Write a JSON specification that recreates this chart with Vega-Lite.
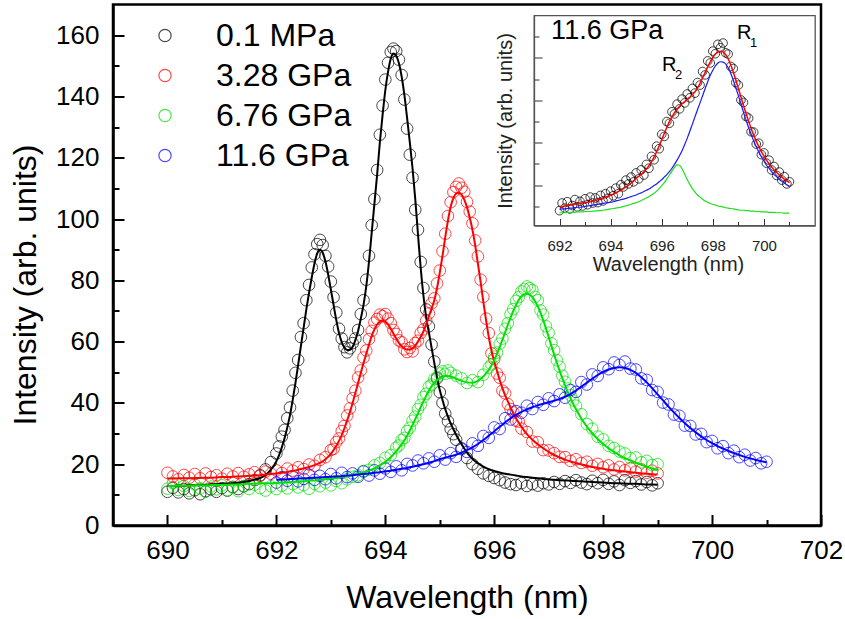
{
"$schema": "https://vega.github.io/schema/vega-lite/v6.json",
"background": "white",
"padding": {"left": 8, "top": 1.5, "right": 0, "bottom": 0},
"columns": 2,
"align": "none",
"spacing": -350,
"datasets": {
"d": [
{"s":"a","w":690,"y":11.0,"f":12.9},{"s":"a","w":690.1,"y":12.3,"f":12.9},{"s":"a","w":690.2,"y":10.8,"f":13.0},{"s":"a","w":690.3,"y":11.9,"f":13.0},{"s":"a","w":690.4,"y":10.5,"f":13.1},{"s":"a","w":690.5,"y":11.5,"f":13.1},{"s":"a","w":690.6,"y":10.2,"f":13.2},{"s":"a","w":690.7,"y":11.2,"f":13.3},{"s":"a","w":690.8,"y":11.8,"f":13.4},{"s":"a","w":690.9,"y":11.0,"f":13.5},
{"s":"a","w":691,"y":12.2,"f":13.6},{"s":"a","w":691.1,"y":11.4,"f":13.7},{"s":"a","w":691.2,"y":12.6,"f":13.8},{"s":"a","w":691.3,"y":11.9,"f":14.0},{"s":"a","w":691.4,"y":12.8,"f":14.2},{"s":"a","w":691.5,"y":13.5,"f":14.5},{"s":"a","w":691.6,"y":14.8,"f":14.9},{"s":"a","w":691.7,"y":16.4,"f":15.5},{"s":"a","w":691.8,"y":18.3,"f":16.5},{"s":"a","w":691.9,"y":20.7,"f":18.2},
{"s":"a","w":692,"y":23.5,"f":21.0},{"s":"a","w":692.05,"y":25.8,"f":23.0},{"s":"a","w":692.1,"y":29.0,"f":25.5},{"s":"a","w":692.15,"y":31.2,"f":28.5},{"s":"a","w":692.2,"y":35.0,"f":32.0},{"s":"a","w":692.25,"y":38.5,"f":36.0},{"s":"a","w":692.3,"y":44.0,"f":41.0},{"s":"a","w":692.35,"y":49.8,"f":46.5},{"s":"a","w":692.4,"y":54.0,"f":52.5},{"s":"a","w":692.45,"y":61.5,"f":58.5},
{"s":"a","w":692.5,"y":66.0,"f":64.5},{"s":"a","w":692.55,"y":73.5,"f":70.5},{"s":"a","w":692.6,"y":78.5,"f":76.0},{"s":"a","w":692.65,"y":84.2,"f":81.0},{"s":"a","w":692.7,"y":88.5,"f":85.5},{"s":"a","w":692.75,"y":91.8,"f":88.8},{"s":"a","w":692.8,"y":93.2,"f":90.0},{"s":"a","w":692.85,"y":91.5,"f":89.0},{"s":"a","w":692.9,"y":88.0,"f":86.2},{"s":"a","w":692.95,"y":84.5,"f":82.0},
{"s":"a","w":693,"y":79.6,"f":77.0},{"s":"a","w":693.05,"y":74.5,"f":72.0},{"s":"a","w":693.1,"y":69.5,"f":67.0},{"s":"a","w":693.15,"y":64.2,"f":62.8},{"s":"a","w":693.2,"y":61.0,"f":59.8},{"s":"a","w":693.25,"y":58.2,"f":58.0},{"s":"a","w":693.3,"y":56.5,"f":57.3},{"s":"a","w":693.35,"y":57.8,"f":57.3},{"s":"a","w":693.4,"y":59.5,"f":58.3},{"s":"a","w":693.45,"y":61.0,"f":60.5},
{"s":"a","w":693.5,"y":63.8,"f":63.5},{"s":"a","w":693.55,"y":69.0,"f":67.5},{"s":"a","w":693.6,"y":73.5,"f":72.0},{"s":"a","w":693.65,"y":80.2,"f":78.0},{"s":"a","w":693.7,"y":88.0,"f":86.0},{"s":"a","w":693.75,"y":98.0,"f":95.5},{"s":"a","w":693.8,"y":106.5,"f":105.0},{"s":"a","w":693.85,"y":116.0,"f":114.5},{"s":"a","w":693.9,"y":127.5,"f":125.0},{"s":"a","w":693.95,"y":137.0,"f":134.0},
{"s":"a","w":694,"y":145.5,"f":142.0},{"s":"a","w":694.05,"y":151.0,"f":148.0},{"s":"a","w":694.1,"y":154.5,"f":152.3},{"s":"a","w":694.15,"y":155.6,"f":154.0},{"s":"a","w":694.2,"y":154.8,"f":153.3},{"s":"a","w":694.25,"y":152.0,"f":150.8},{"s":"a","w":694.3,"y":147.0,"f":146.5},{"s":"a","w":694.35,"y":139.0,"f":140.5},{"s":"a","w":694.4,"y":129.5,"f":133.0},{"s":"a","w":694.45,"y":121.0,"f":125.0},
{"s":"a","w":694.5,"y":113.5,"f":116.5},{"s":"a","w":694.55,"y":103.0,"f":106.5},{"s":"a","w":694.6,"y":96.5,"f":95.0},{"s":"a","w":694.65,"y":86.0,"f":84.0},{"s":"a","w":694.7,"y":77.5,"f":75.0},{"s":"a","w":694.75,"y":70.5,"f":68.0},{"s":"a","w":694.8,"y":65.0,"f":63.0},{"s":"a","w":694.85,"y":59.0,"f":58.0},{"s":"a","w":694.9,"y":53.5,"f":53.0},{"s":"a","w":694.95,"y":48.0,"f":48.3},
{"s":"a","w":695,"y":43.5,"f":44.2},{"s":"a","w":695.05,"y":40.0,"f":41.0},{"s":"a","w":695.1,"y":36.5,"f":38.0},{"s":"a","w":695.15,"y":34.0,"f":35.5},{"s":"a","w":695.2,"y":31.5,"f":33.3},{"s":"a","w":695.25,"y":29.8,"f":31.4},{"s":"a","w":695.3,"y":28.0,"f":29.6},{"s":"a","w":695.4,"y":25.2,"f":26.5},{"s":"a","w":695.5,"y":22.0,"f":23.8},{"s":"a","w":695.6,"y":20.0,"f":21.8},
{"s":"a","w":695.7,"y":18.5,"f":20.3},{"s":"a","w":695.8,"y":17.0,"f":19.2},{"s":"a","w":695.9,"y":16.2,"f":18.4},{"s":"a","w":696,"y":15.5,"f":17.8},{"s":"a","w":696.1,"y":14.8,"f":17.3},{"s":"a","w":696.2,"y":14.0,"f":16.9},{"s":"a","w":696.3,"y":13.5,"f":16.6},{"s":"a","w":696.4,"y":13.2,"f":16.3},{"s":"a","w":696.5,"y":13.8,"f":16.0},{"s":"a","w":696.6,"y":12.9,"f":15.8},
{"s":"a","w":696.7,"y":13.5,"f":15.6},{"s":"a","w":696.8,"y":13.0,"f":15.4},{"s":"a","w":696.9,"y":13.8,"f":15.2},{"s":"a","w":697,"y":13.4,"f":15.0},{"s":"a","w":697.1,"y":14.2,"f":14.9},{"s":"a","w":697.2,"y":13.6,"f":14.8},{"s":"a","w":697.3,"y":14.5,"f":14.7},{"s":"a","w":697.4,"y":13.9,"f":14.6},{"s":"a","w":697.5,"y":14.8,"f":14.5},{"s":"a","w":697.6,"y":14.0,"f":14.4},
{"s":"a","w":697.7,"y":13.5,"f":14.3},{"s":"a","w":697.8,"y":14.6,"f":14.2},{"s":"a","w":697.9,"y":13.8,"f":14.1},{"s":"a","w":698,"y":14.9,"f":14.0},{"s":"a","w":698.1,"y":13.6,"f":13.9},{"s":"a","w":698.2,"y":14.4,"f":13.8},{"s":"a","w":698.3,"y":13.2,"f":13.8},{"s":"a","w":698.4,"y":14.8,"f":13.7},{"s":"a","w":698.5,"y":13.9,"f":13.6},{"s":"a","w":698.6,"y":14.5,"f":13.6},
{"s":"a","w":698.7,"y":13.4,"f":13.5},{"s":"a","w":698.8,"y":14.2,"f":13.4},{"s":"a","w":698.9,"y":13.1,"f":13.4},{"s":"a","w":699,"y":13.8,"f":13.3},

{"s":"b","w":690,"y":17.2,"f":15.3},{"s":"b","w":690.1,"y":16.0,"f":15.3},{"s":"b","w":690.2,"y":15.1,"f":15.4},{"s":"b","w":690.3,"y":16.5,"f":15.4},{"s":"b","w":690.4,"y":15.6,"f":15.4},{"s":"b","w":690.5,"y":16.8,"f":15.5},{"s":"b","w":690.6,"y":15.4,"f":15.5},{"s":"b","w":690.7,"y":17.0,"f":15.6},{"s":"b","w":690.8,"y":15.8,"f":15.6},{"s":"b","w":690.9,"y":16.4,"f":15.7},
{"s":"b","w":691,"y":15.3,"f":15.8},{"s":"b","w":691.1,"y":16.9,"f":15.8},{"s":"b","w":691.2,"y":16.0,"f":15.9},{"s":"b","w":691.3,"y":17.1,"f":16.0},{"s":"b","w":691.4,"y":15.9,"f":16.1},{"s":"b","w":691.5,"y":16.7,"f":16.2},{"s":"b","w":691.6,"y":17.4,"f":16.3},{"s":"b","w":691.7,"y":16.2,"f":16.4},{"s":"b","w":691.8,"y":17.6,"f":16.6},{"s":"b","w":691.9,"y":16.9,"f":16.8},
{"s":"b","w":692,"y":18.0,"f":17.0},{"s":"b","w":692.1,"y":17.1,"f":17.2},{"s":"b","w":692.2,"y":18.6,"f":17.5},{"s":"b","w":692.3,"y":17.9,"f":17.8},{"s":"b","w":692.4,"y":19.0,"f":18.2},{"s":"b","w":692.5,"y":18.4,"f":18.6},{"s":"b","w":692.6,"y":19.9,"f":19.1},{"s":"b","w":692.7,"y":19.5,"f":19.7},{"s":"b","w":692.8,"y":21.4,"f":20.4},{"s":"b","w":692.9,"y":22.3,"f":21.6},
{"s":"b","w":693,"y":24.6,"f":23.4},{"s":"b","w":693.05,"y":25.0,"f":24.6},{"s":"b","w":693.1,"y":27.2,"f":26.0},{"s":"b","w":693.15,"y":28.4,"f":27.6},{"s":"b","w":693.2,"y":30.8,"f":29.5},{"s":"b","w":693.25,"y":32.5,"f":31.8},{"s":"b","w":693.3,"y":35.9,"f":34.3},{"s":"b","w":693.35,"y":38.2,"f":37.0},{"s":"b","w":693.4,"y":41.5,"f":40.0},{"s":"b","w":693.45,"y":44.0,"f":43.2},
{"s":"b","w":693.5,"y":48.3,"f":46.5},{"s":"b","w":693.55,"y":50.6,"f":49.8},{"s":"b","w":693.6,"y":54.8,"f":53.0},{"s":"b","w":693.65,"y":57.1,"f":56.0},{"s":"b","w":693.7,"y":60.8,"f":59.0},{"s":"b","w":693.75,"y":63.5,"f":61.8},{"s":"b","w":693.8,"y":66.2,"f":64.0},{"s":"b","w":693.85,"y":67.4,"f":65.6},{"s":"b","w":693.9,"y":68.8,"f":66.5},{"s":"b","w":693.95,"y":68.3,"f":66.8},
{"s":"b","w":694,"y":69.0,"f":66.5},{"s":"b","w":694.05,"y":67.5,"f":65.6},{"s":"b","w":694.1,"y":66.0,"f":64.2},{"s":"b","w":694.15,"y":63.8,"f":62.6},{"s":"b","w":694.2,"y":62.5,"f":61.0},{"s":"b","w":694.25,"y":60.4,"f":59.6},{"s":"b","w":694.3,"y":59.8,"f":58.5},{"s":"b","w":694.35,"y":57.5,"f":57.8},{"s":"b","w":694.4,"y":56.6,"f":57.4},{"s":"b","w":694.45,"y":57.9,"f":57.4},
{"s":"b","w":694.5,"y":56.8,"f":57.8},{"s":"b","w":694.55,"y":59.5,"f":58.7},{"s":"b","w":694.6,"y":60.3,"f":60.0},{"s":"b","w":694.65,"y":62.8,"f":61.6},{"s":"b","w":694.7,"y":64.0,"f":63.3},{"s":"b","w":694.75,"y":66.9,"f":65.6},{"s":"b","w":694.8,"y":69.2,"f":68.3},{"s":"b","w":694.85,"y":72.5,"f":70.8},{"s":"b","w":694.9,"y":74.1,"f":73.5},{"s":"b","w":694.95,"y":79.0,"f":77.5},
{"s":"b","w":695,"y":83.2,"f":82.5},{"s":"b","w":695.05,"y":89.5,"f":88.0},{"s":"b","w":695.1,"y":95.2,"f":94.0},{"s":"b","w":695.15,"y":101.0,"f":99.5},{"s":"b","w":695.2,"y":105.5,"f":104.0},{"s":"b","w":695.25,"y":108.8,"f":106.8},{"s":"b","w":695.3,"y":110.5,"f":108.3},{"s":"b","w":695.35,"y":111.6,"f":108.6},{"s":"b","w":695.4,"y":110.2,"f":108.0},{"s":"b","w":695.45,"y":108.9,"f":106.3},
{"s":"b","w":695.5,"y":105.6,"f":103.8},{"s":"b","w":695.55,"y":102.4,"f":100.5},{"s":"b","w":695.6,"y":98.6,"f":96.5},{"s":"b","w":695.65,"y":93.0,"f":91.5},{"s":"b","w":695.7,"y":87.8,"f":85.5},{"s":"b","w":695.75,"y":80.2,"f":79.5},{"s":"b","w":695.8,"y":74.6,"f":73.0},{"s":"b","w":695.85,"y":67.5,"f":67.0},{"s":"b","w":695.9,"y":62.8,"f":61.5},{"s":"b","w":695.95,"y":56.2,"f":57.0},
{"s":"b","w":696,"y":54.3,"f":53.5},{"s":"b","w":696.05,"y":49.6,"f":50.5},{"s":"b","w":696.1,"y":48.2,"f":47.5},{"s":"b","w":696.15,"y":44.0,"f":44.8},{"s":"b","w":696.2,"y":43.1,"f":42.5},{"s":"b","w":696.25,"y":39.6,"f":40.5},{"s":"b","w":696.3,"y":38.0,"f":38.5},{"s":"b","w":696.35,"y":36.9,"f":36.7},{"s":"b","w":696.4,"y":34.2,"f":35.0},{"s":"b","w":696.45,"y":33.9,"f":33.5},
{"s":"b","w":696.5,"y":31.6,"f":32.2},{"s":"b","w":696.6,"y":30.5,"f":29.8},{"s":"b","w":696.7,"y":27.4,"f":28.0},{"s":"b","w":696.8,"y":27.2,"f":26.5},{"s":"b","w":696.9,"y":24.6,"f":25.2},{"s":"b","w":697,"y":24.5,"f":24.0},{"s":"b","w":697.1,"y":23.6,"f":23.0},{"s":"b","w":697.2,"y":22.4,"f":22.2},{"s":"b","w":697.3,"y":22.3,"f":21.5},{"s":"b","w":697.4,"y":21.1,"f":20.9},
{"s":"b","w":697.5,"y":21.6,"f":20.4},{"s":"b","w":697.6,"y":20.4,"f":19.9},{"s":"b","w":697.7,"y":20.8,"f":19.5},{"s":"b","w":697.8,"y":19.5,"f":19.1},{"s":"b","w":697.9,"y":20.1,"f":18.8},{"s":"b","w":698,"y":19.0,"f":18.5},{"s":"b","w":698.1,"y":19.6,"f":18.2},{"s":"b","w":698.2,"y":18.3,"f":18.0},{"s":"b","w":698.3,"y":19.1,"f":17.8},{"s":"b","w":698.4,"y":18.0,"f":17.6},
{"s":"b","w":698.5,"y":18.7,"f":17.4},{"s":"b","w":698.6,"y":17.6,"f":17.2},{"s":"b","w":698.7,"y":18.3,"f":17.0},{"s":"b","w":698.8,"y":17.2,"f":16.9},{"s":"b","w":698.9,"y":17.9,"f":16.7},{"s":"b","w":699,"y":17.0,"f":16.6},

{"s":"c","w":690,"y":12.0,"f":12.9},{"s":"c","w":690.1,"y":13.8,"f":12.9},{"s":"c","w":690.2,"y":11.6,"f":13.0},{"s":"c","w":690.3,"y":12.9,"f":13.0},{"s":"c","w":690.4,"y":11.3,"f":13.0},{"s":"c","w":690.5,"y":13.4,"f":13.1},{"s":"c","w":690.6,"y":12.1,"f":13.1},{"s":"c","w":690.7,"y":11.0,"f":13.1},{"s":"c","w":690.8,"y":12.7,"f":13.2},{"s":"c","w":690.9,"y":11.8,"f":13.2},
{"s":"c","w":691,"y":13.1,"f":13.3},{"s":"c","w":691.1,"y":11.5,"f":13.3},{"s":"c","w":691.2,"y":12.4,"f":13.4},{"s":"c","w":691.3,"y":11.2,"f":13.4},{"s":"c","w":691.4,"y":12.9,"f":13.5},{"s":"c","w":691.5,"y":11.9,"f":13.6},{"s":"c","w":691.6,"y":13.3,"f":13.7},{"s":"c","w":691.7,"y":12.2,"f":13.7},{"s":"c","w":691.8,"y":11.4,"f":13.8},{"s":"c","w":691.9,"y":12.8,"f":13.8},
{"s":"c","w":692,"y":11.9,"f":13.9},{"s":"c","w":692.1,"y":13.0,"f":14.0},{"s":"c","w":692.2,"y":12.1,"f":14.1},{"s":"c","w":692.3,"y":13.5,"f":14.2},{"s":"c","w":692.4,"y":12.4,"f":14.3},{"s":"c","w":692.5,"y":13.2,"f":14.4},{"s":"c","w":692.6,"y":12.0,"f":14.6},{"s":"c","w":692.7,"y":13.6,"f":14.7},{"s":"c","w":692.8,"y":12.8,"f":14.9},{"s":"c","w":692.9,"y":14.0,"f":15.1},
{"s":"c","w":693,"y":13.1,"f":15.3},{"s":"c","w":693.1,"y":14.5,"f":15.5},{"s":"c","w":693.2,"y":13.8,"f":15.8},{"s":"c","w":693.3,"y":15.1,"f":16.1},{"s":"c","w":693.4,"y":15.9,"f":16.5},{"s":"c","w":693.5,"y":16.4,"f":16.9},{"s":"c","w":693.6,"y":17.8,"f":17.3},{"s":"c","w":693.7,"y":18.2,"f":17.9},{"s":"c","w":693.8,"y":19.6,"f":18.6},{"s":"c","w":693.9,"y":20.4,"f":19.6},
{"s":"c","w":694,"y":22.1,"f":20.8},{"s":"c","w":694.1,"y":23.0,"f":22.3},{"s":"c","w":694.2,"y":25.4,"f":24.2},{"s":"c","w":694.25,"y":26.1,"f":25.3},{"s":"c","w":694.3,"y":27.9,"f":26.5},{"s":"c","w":694.35,"y":28.6,"f":27.8},{"s":"c","w":694.4,"y":30.8,"f":29.3},{"s":"c","w":694.45,"y":31.9,"f":31.0},{"s":"c","w":694.5,"y":34.2,"f":32.8},{"s":"c","w":694.55,"y":35.5,"f":34.7},
{"s":"c","w":694.6,"y":38.0,"f":36.6},{"s":"c","w":694.65,"y":39.4,"f":38.6},{"s":"c","w":694.7,"y":41.9,"f":40.5},{"s":"c","w":694.75,"y":43.0,"f":42.3},{"s":"c","w":694.8,"y":45.3,"f":44.0},{"s":"c","w":694.85,"y":46.0,"f":45.4},{"s":"c","w":694.9,"y":47.8,"f":46.6},{"s":"c","w":694.95,"y":48.4,"f":47.5},{"s":"c","w":695,"y":49.6,"f":48.2},{"s":"c","w":695.05,"y":50.3,"f":48.6},
{"s":"c","w":695.1,"y":49.5,"f":48.8},{"s":"c","w":695.15,"y":50.6,"f":48.8},{"s":"c","w":695.2,"y":49.8,"f":48.6},{"s":"c","w":695.3,"y":48.9,"f":47.9},{"s":"c","w":695.4,"y":48.0,"f":47.2},{"s":"c","w":695.5,"y":46.5,"f":46.7},{"s":"c","w":695.6,"y":47.4,"f":46.6},{"s":"c","w":695.7,"y":46.8,"f":47.2},{"s":"c","w":695.8,"y":49.2,"f":48.6},{"s":"c","w":695.9,"y":51.5,"f":50.8},
{"s":"c","w":695.95,"y":52.6,"f":52.3},{"s":"c","w":696,"y":55.1,"f":54.0},{"s":"c","w":696.05,"y":56.4,"f":56.0},{"s":"c","w":696.1,"y":59.3,"f":58.2},{"s":"c","w":696.15,"y":61.0,"f":60.6},{"s":"c","w":696.2,"y":64.2,"f":63.0},{"s":"c","w":696.25,"y":66.0,"f":65.5},{"s":"c","w":696.3,"y":69.0,"f":67.8},{"s":"c","w":696.35,"y":70.6,"f":70.0},{"s":"c","w":696.4,"y":73.3,"f":72.0},
{"s":"c","w":696.45,"y":74.5,"f":73.6},{"s":"c","w":696.5,"y":76.4,"f":74.8},{"s":"c","w":696.55,"y":77.1,"f":75.4},{"s":"c","w":696.6,"y":78.0,"f":75.6},{"s":"c","w":696.65,"y":77.4,"f":75.3},{"s":"c","w":696.7,"y":76.8,"f":74.5},{"s":"c","w":696.75,"y":74.6,"f":73.2},{"s":"c","w":696.8,"y":73.5,"f":71.5},{"s":"c","w":696.85,"y":70.2,"f":69.4},{"s":"c","w":696.9,"y":68.8,"f":67.0},
{"s":"c","w":696.95,"y":65.0,"f":64.3},{"s":"c","w":697,"y":62.9,"f":61.5},{"s":"c","w":697.05,"y":59.4,"f":58.6},{"s":"c","w":697.1,"y":57.2,"f":55.8},{"s":"c","w":697.15,"y":53.9,"f":53.1},{"s":"c","w":697.2,"y":51.8,"f":50.5},{"s":"c","w":697.25,"y":48.9,"f":48.1},{"s":"c","w":697.3,"y":46.9,"f":45.8},{"s":"c","w":697.35,"y":44.7,"f":43.6},{"s":"c","w":697.4,"y":42.5,"f":41.6},
{"s":"c","w":697.45,"y":40.8,"f":39.7},{"s":"c","w":697.5,"y":39.1,"f":38.0},{"s":"c","w":697.6,"y":36.3,"f":34.9},{"s":"c","w":697.7,"y":33.1,"f":32.3},{"s":"c","w":697.8,"y":31.6,"f":30.1},{"s":"c","w":697.9,"y":29.0,"f":28.2},{"s":"c","w":698,"y":28.1,"f":26.6},{"s":"c","w":698.1,"y":26.0,"f":25.2},{"s":"c","w":698.2,"y":25.3,"f":24.0},{"s":"c","w":698.3,"y":24.1,"f":22.9},
{"s":"c","w":698.4,"y":23.5,"f":22.0},{"s":"c","w":698.5,"y":22.0,"f":21.2},{"s":"c","w":698.6,"y":22.2,"f":20.5},{"s":"c","w":698.7,"y":20.6,"f":19.8},{"s":"c","w":698.8,"y":21.1,"f":19.2},{"s":"c","w":698.9,"y":19.7,"f":18.6},{"s":"c","w":699,"y":20.0,"f":18.1},

{"s":"d","w":692,"y":14.0,"f":14.9,"r":14.3,"g":13.5},{"s":"d","w":692.1,"y":15.8,"f":15.0,"r":14.4,"g":13.5},{"s":"d","w":692.2,"y":14.6,"f":15.1,"r":14.4,"g":13.5},{"s":"d","w":692.3,"y":16.1,"f":15.2,"r":14.5,"g":13.6},{"s":"d","w":692.4,"y":14.4,"f":15.3,"r":14.6,"g":13.6},{"s":"d","w":692.5,"y":15.2,"f":15.4,"r":14.6,"g":13.6},{"s":"d","w":692.6,"y":16.6,"f":15.5,"r":14.7,"g":13.6},{"s":"d","w":692.7,"y":14.9,"f":15.6,"r":14.8,"g":13.7},{"s":"d","w":692.8,"y":16.2,"f":15.7,"r":14.8,"g":13.7},{"s":"d","w":692.9,"y":15.1,"f":15.8,"r":14.9,"g":13.7},
{"s":"d","w":693,"y":16.8,"f":15.9,"r":15.0,"g":13.8},{"s":"d","w":693.1,"y":15.4,"f":16.0,"r":15.1,"g":13.8},{"s":"d","w":693.2,"y":17.2,"f":16.1,"r":15.2,"g":13.8},{"s":"d","w":693.3,"y":15.8,"f":16.3,"r":15.3,"g":13.9},{"s":"d","w":693.4,"y":17.0,"f":16.4,"r":15.4,"g":13.9},{"s":"d","w":693.5,"y":15.9,"f":16.6,"r":15.5,"g":14.0},{"s":"d","w":693.6,"y":17.6,"f":16.8,"r":15.6,"g":14.0},{"s":"d","w":693.7,"y":16.3,"f":17.0,"r":15.7,"g":14.1},{"s":"d","w":693.8,"y":18.0,"f":17.2,"r":15.8,"g":14.2},{"s":"d","w":693.9,"y":16.9,"f":17.4,"r":15.9,"g":14.3},
{"s":"d","w":694,"y":18.6,"f":17.7,"r":16.0,"g":14.4},{"s":"d","w":694.1,"y":17.5,"f":17.9,"r":16.1,"g":14.5},{"s":"d","w":694.2,"y":19.3,"f":18.2,"r":16.3,"g":14.6},{"s":"d","w":694.3,"y":18.0,"f":18.5,"r":16.4,"g":14.7},{"s":"d","w":694.4,"y":20.1,"f":18.8,"r":16.6,"g":14.8},{"s":"d","w":694.5,"y":19.6,"f":19.2,"r":16.7,"g":15.0},{"s":"d","w":694.6,"y":21.2,"f":19.6,"r":16.9,"g":15.1},{"s":"d","w":694.7,"y":20.3,"f":20.0,"r":17.1,"g":15.3},{"s":"d","w":694.8,"y":21.9,"f":20.5,"r":17.3,"g":15.5},{"s":"d","w":694.9,"y":20.8,"f":21.0,"r":17.5,"g":15.7},
{"s":"d","w":695,"y":22.9,"f":21.6,"r":17.7,"g":15.9},{"s":"d","w":695.1,"y":21.5,"f":22.1,"r":18.0,"g":16.1},{"s":"d","w":695.2,"y":23.6,"f":22.6,"r":18.2,"g":16.4},{"s":"d","w":695.3,"y":22.4,"f":23.1,"r":18.5,"g":16.7},{"s":"d","w":695.4,"y":24.9,"f":23.8,"r":18.8,"g":17.0},{"s":"d","w":695.5,"y":24.0,"f":24.6,"r":19.1,"g":17.3},{"s":"d","w":695.6,"y":26.8,"f":25.5,"r":19.5,"g":17.7},{"s":"d","w":695.7,"y":26.0,"f":26.6,"r":19.9,"g":18.1},{"s":"d","w":695.8,"y":29.2,"f":27.9,"r":20.3,"g":18.6},{"s":"d","w":695.9,"y":28.6,"f":29.3,"r":20.8,"g":19.2},
{"s":"d","w":696,"y":32.0,"f":30.7,"r":21.3,"g":19.9},{"s":"d","w":696.1,"y":31.5,"f":32.2,"r":21.9,"g":20.6},{"s":"d","w":696.2,"y":35.0,"f":33.6,"r":22.5,"g":21.5},{"s":"d","w":696.3,"y":34.6,"f":35.0,"r":23.2,"g":22.4},{"s":"d","w":696.4,"y":37.3,"f":36.1,"r":24.0,"g":23.3},{"s":"d","w":696.5,"y":36.8,"f":37.1,"r":24.9,"g":24.2},{"s":"d","w":696.6,"y":39.1,"f":37.9,"r":25.9,"g":24.8},{"s":"d","w":696.7,"y":38.0,"f":38.6,"r":27.0,"g":24.7},{"s":"d","w":696.8,"y":40.3,"f":39.2,"r":28.2,"g":23.8},{"s":"d","w":696.9,"y":39.4,"f":39.7,"r":29.6,"g":22.6},
{"s":"d","w":697,"y":41.5,"f":40.2,"r":31.1,"g":21.3},{"s":"d","w":697.1,"y":40.6,"f":40.7,"r":32.7,"g":20.2},{"s":"d","w":697.2,"y":42.8,"f":41.3,"r":34.4,"g":19.2},{"s":"d","w":697.3,"y":41.7,"f":42.0,"r":36.1,"g":18.4},{"s":"d","w":697.4,"y":44.2,"f":42.9,"r":37.8,"g":17.7},{"s":"d","w":697.5,"y":43.6,"f":44.0,"r":39.4,"g":17.2},{"s":"d","w":697.6,"y":46.8,"f":45.3,"r":41.1,"g":16.7},{"s":"d","w":697.7,"y":46.0,"f":46.6,"r":42.8,"g":16.3},{"s":"d","w":697.8,"y":49.3,"f":47.9,"r":44.4,"g":16.0},{"s":"d","w":697.9,"y":48.8,"f":49.1,"r":45.9,"g":15.7},
{"s":"d","w":698,"y":51.6,"f":50.1,"r":47.1,"g":15.5},{"s":"d","w":698.1,"y":51.0,"f":50.9,"r":48.1,"g":15.3},{"s":"d","w":698.2,"y":53.2,"f":51.4,"r":48.8,"g":15.1},{"s":"d","w":698.3,"y":52.4,"f":51.6,"r":49.1,"g":15.0},{"s":"d","w":698.4,"y":53.5,"f":51.4,"r":49.0,"g":14.9},{"s":"d","w":698.5,"y":51.2,"f":50.8,"r":48.6,"g":14.7},{"s":"d","w":698.6,"y":50.9,"f":49.8,"r":47.7,"g":14.6},{"s":"d","w":698.7,"y":48.0,"f":48.4,"r":46.4,"g":14.5},{"s":"d","w":698.8,"y":47.5,"f":46.7,"r":44.8,"g":14.4},{"s":"d","w":698.9,"y":44.2,"f":44.8,"r":43.0,"g":14.3},
{"s":"d","w":699,"y":43.6,"f":42.8,"r":41.1,"g":14.2},{"s":"d","w":699.1,"y":40.1,"f":40.8,"r":39.2,"g":14.1},{"s":"d","w":699.2,"y":39.5,"f":38.8,"r":37.2,"g":14.1},{"s":"d","w":699.3,"y":36.2,"f":36.9,"r":35.4,"g":14.0},{"s":"d","w":699.4,"y":35.8,"f":35.1,"r":33.6,"g":14.0},{"s":"d","w":699.5,"y":32.6,"f":33.4,"r":32.0,"g":13.9},{"s":"d","w":699.6,"y":32.5,"f":31.8,"r":30.4,"g":13.9},{"s":"d","w":699.7,"y":29.7,"f":30.4,"r":29.1,"g":13.8},{"s":"d","w":699.8,"y":29.9,"f":29.1,"r":27.8,"g":13.8},{"s":"d","w":699.9,"y":27.2,"f":27.9,"r":26.7,"g":13.7},
{"s":"d","w":700,"y":27.6,"f":26.9,"r":25.7,"g":13.7},{"s":"d","w":700.1,"y":25.2,"f":25.9,"r":24.7,"g":13.7},{"s":"d","w":700.2,"y":25.9,"f":25.1,"r":24.0,"g":13.6},{"s":"d","w":700.3,"y":23.6,"f":24.3,"r":23.2,"g":13.6},{"s":"d","w":700.4,"y":24.4,"f":23.6,"r":22.5,"g":13.6},{"s":"d","w":700.5,"y":22.3,"f":23.0,"r":22.0,"g":13.5},{"s":"d","w":700.6,"y":23.1,"f":22.4,"r":21.4,"g":13.5},{"s":"d","w":700.7,"y":21.2,"f":21.9,"r":20.9,"g":13.5},{"s":"d","w":700.8,"y":22.0,"f":21.4,"r":20.5,"g":13.4},{"s":"d","w":700.9,"y":20.3,"f":21.0,"r":20.1,"g":13.4},
{"s":"d","w":701,"y":20.8,"f":20.6,"r":19.7,"g":13.4}
],
"big": [{"w": 691.67, "I": 56.4, "t": "11.6 GPa"}],
"rl": [{"w": 696.01, "I": 48.4, "t": "R", "u": "2"}, {"w": 698.95, "I": 55.9, "t": "R", "u": "1"}],
"none": [{"k": 0}]
},
"concat": [
{
"width": 708,
"height": 521,
"view": {"stroke": "#000", "strokeWidth": 2.5},
"data": {"name": "d"},
"layer": [
{
"mark": {"type": "point", "shape": "circle", "filled": false, "size": 135, "strokeWidth": 1, "opacity": 0.72},
"encoding": {
"x": {"field": "w", "type": "quantitative", "scale": {"domain": [689, 702], "nice": false, "zero": false},
"axis": {"values": [690, 692, 694, 696, 698, 700, 702], "orient": "bottom", "title": "Wavelength (nm)", "format": "d", "tickSize": -11, "tickWidth": 2, "domainWidth": 2.5, "labelFontSize": 26, "labelPadding": 23, "labelFlush": false, "labelOverlap": false, "titleFontSize": 32, "titlePadding": 19}},
"y": {"field": "y", "type": "quantitative", "scale": {"domain": [0, 170], "nice": false, "zero": false},
"axis": {"values": [0, 20, 40, 60, 80, 100, 120, 140, 160], "orient": "left", "title": "Intensity (arb. units)", "format": "d", "tickSize": -11, "tickWidth": 2, "domainWidth": 2.5, "labelFontSize": 26, "labelPadding": 25, "labelOverlap": false, "titleFontSize": 32, "titlePadding": 13, "titleY": 280}},
"color": {"field": "s", "type": "nominal",
"scale": {"domain": ["a", "b", "c", "d"], "range": ["#000000", "#ff0000", "#00e000", "#0000ff"]},
"legend": {"orient": "none", "legendX": 36, "legendY": 15, "title": null, "padding": 0, "labelFontSize": 32, "labelColor": "#000", "labelOffset": 35, "rowPadding": 8, "symbolSize": 150, "symbolStrokeWidth": 1.2, "symbolType": "circle", "symbolFillColor": "transparent",
"labelExpr": "datum.label == 'a' ? '0.1 MPa' : datum.label == 'b' ? '3.28 GPa' : datum.label == 'c' ? '6.76 GPa' : '11.6 GPa'"}}
}
},
{
"mark": {"type": "line", "strokeWidth": 2, "interpolate": "monotone"},
"encoding": {
"x": {"field": "w", "type": "quantitative", "axis": {"values": [691, 693, 695, 697, 699, 701], "orient": "bottom", "labels": false, "title": null, "domain": false, "tickSize": -6, "tickWidth": 2}},
"y": {"field": "f", "type": "quantitative", "axis": {"values": [10, 30, 50, 70, 90, 110, 130, 150], "orient": "left", "labels": false, "title": null, "domain": false, "tickSize": -6, "tickWidth": 2}},
"color": {"field": "s", "type": "nominal", "legend": null}
}
}
],
"resolve": {"axis": {"x": "independent", "y": "independent"}, "legend": {"color": "independent"}}
},
{
"vconcat": [
{
"width": 1,
"height": 1,
"view": {"stroke": null},
"data": {"name": "none"},
"mark": {"type": "point", "opacity": 0}
},
{
"width": 281,
"height": 210,
"view": {"stroke": "#555", "strokeWidth": 1.3},
"layer": [
{
"data": {"name": "d"},
"transform": [{"filter": "datum.s == 'd'"}],
"mark": {"type": "point", "shape": "circle", "filled": false, "size": 75, "strokeWidth": 1, "color": "#000", "opacity": 0.75},
"encoding": {
"x": {"field": "w", "type": "quantitative", "scale": {"domain": [691, 702], "nice": false, "zero": false},
"axis": {"values": [692, 694, 696, 698, 700], "orient": "bottom", "title": "Wavelength (nm)", "format": "d", "tickSize": -7, "tickWidth": 1, "tickColor": "#333", "domainColor": "#555", "domainWidth": 1.3, "labelFontSize": 15, "labelColor": "#222", "labelPadding": 20, "labelFlush": false, "labelOverlap": false, "titleFontSize": 20, "titleColor": "#222", "titlePadding": 1, "titleX": 134}},
"y": {"field": "y", "type": "quantitative", "scale": {"domain": [10.5, 60], "nice": false, "zero": false},
"axis": {"values": [20, 30, 40, 50], "orient": "left", "labels": false, "title": "Intensity (arb. units)", "tickSize": -8, "tickWidth": 1, "tickColor": "#333", "domainColor": "#555", "domainWidth": 1.3, "titleFontSize": 20, "titleColor": "#222", "titlePadding": 18}}
}
},
{
"data": {"name": "d"},
"transform": [{"filter": "datum.s == 'd'"}],
"mark": {"type": "line", "strokeWidth": 1.5, "color": "#ff0000", "interpolate": "monotone"},
"encoding": {
"x": {"field": "w", "type": "quantitative", "axis": {"values": [693, 695, 697, 699, 701], "orient": "bottom", "labels": false, "title": null, "domain": false, "tickSize": -4, "tickWidth": 1, "tickColor": "#333"}},
"y": {"field": "f", "type": "quantitative", "axis": {"values": [15, 25, 35, 45, 55], "orient": "left", "labels": false, "title": null, "domain": false, "tickSize": -5, "tickWidth": 1, "tickColor": "#333"}}
}
},
{
"data": {"name": "d"},
"transform": [{"filter": "datum.s == 'd'"}],
"mark": {"type": "line", "strokeWidth": 1.2, "color": "#1a1aff", "interpolate": "monotone"},
"encoding": {
"x": {"field": "w", "type": "quantitative", "axis": null},
"y": {"field": "r", "type": "quantitative", "axis": null}
}
},
{
"data": {"name": "d"},
"transform": [{"filter": "datum.s == 'd'"}],
"mark": {"type": "line", "strokeWidth": 1.2, "color": "#22dd22", "interpolate": "monotone"},
"encoding": {
"x": {"field": "w", "type": "quantitative", "axis": null},
"y": {"field": "g", "type": "quantitative", "axis": null}
}
},
{
"data": {"name": "big"},
"mark": {"type": "text", "align": "left", "baseline": "middle", "fontSize": 27, "color": "#000"},
"encoding": {
"x": {"field": "w", "type": "quantitative", "axis": null},
"y": {"field": "I", "type": "quantitative", "axis": null},
"text": {"field": "t"}
}
},
{
"data": {"name": "rl"},
"mark": {"type": "text", "align": "left", "baseline": "middle", "fontSize": 20, "color": "#000"},
"encoding": {
"x": {"field": "w", "type": "quantitative", "axis": null},
"y": {"field": "I", "type": "quantitative", "axis": null},
"text": {"field": "t"}
}
},
{
"data": {"name": "rl"},
"mark": {"type": "text", "align": "left", "baseline": "middle", "fontSize": 13, "dx": 13, "dy": 10, "color": "#000"},
"encoding": {
"x": {"field": "w", "type": "quantitative", "axis": null},
"y": {"field": "I", "type": "quantitative", "axis": null},
"text": {"field": "u"}
}
}
],
"resolve": {"axis": {"x": "independent", "y": "independent"}}
}
],
"spacing": 6
}
],
"config": {
"font": "Liberation Sans",
"axis": {"grid": false, "labelColor": "#000", "titleColor": "#000", "titleFontWeight": "normal", "domainColor": "#000", "tickColor": "#000", "labelFont": "Liberation Sans", "titleFont": "Liberation Sans"},
"legend": {"labelFont": "Liberation Sans"},
"title": {"font": "Liberation Sans"}
}
}
